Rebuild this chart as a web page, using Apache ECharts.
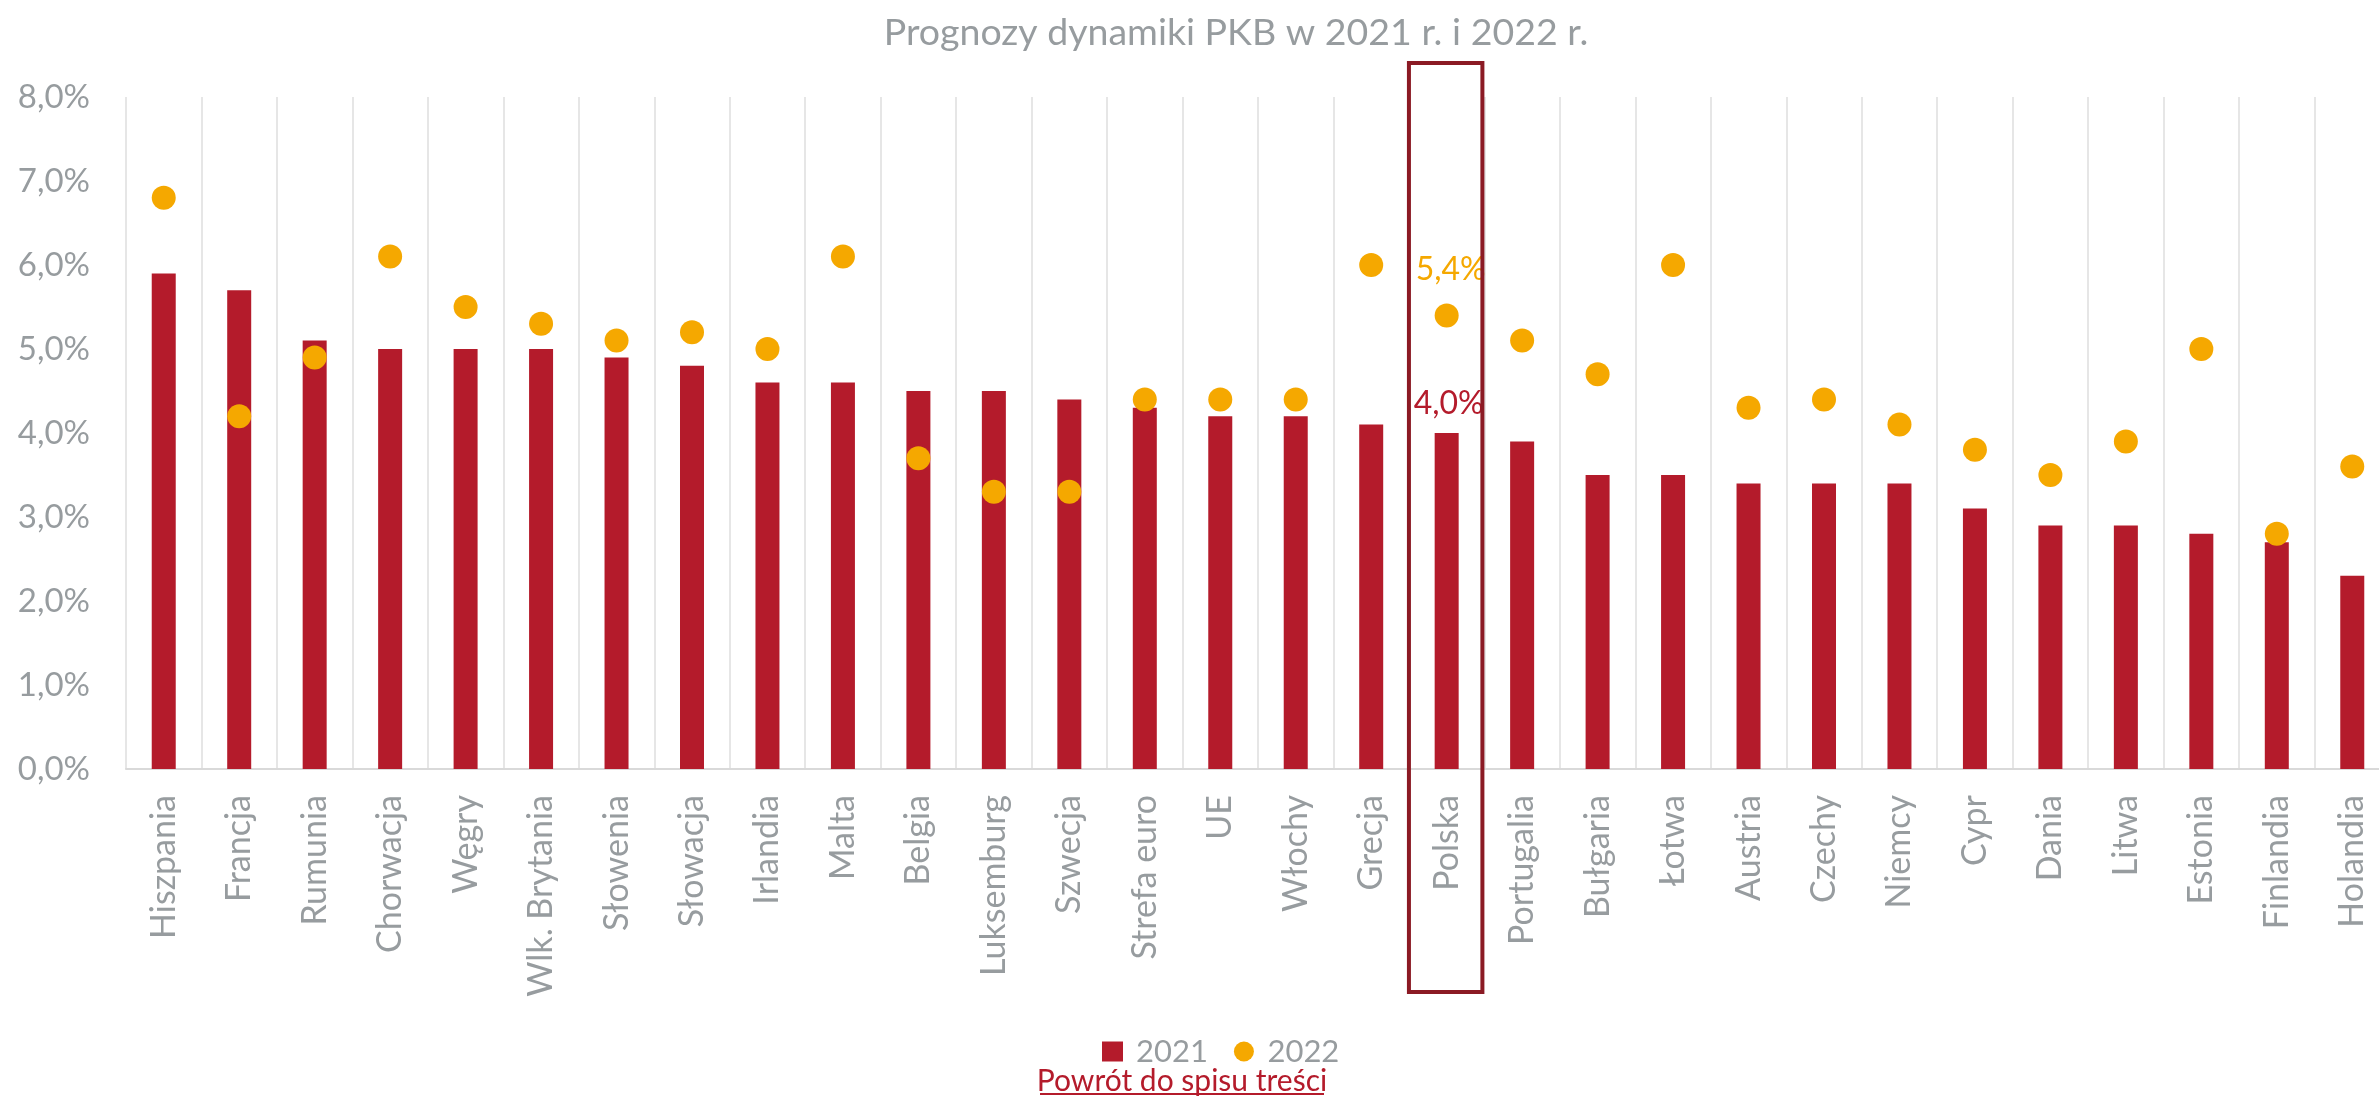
<!DOCTYPE html>
<html>
<head>
<meta charset="utf-8">
<script src="https://cdn.jsdelivr.net/npm/echarts@6/dist/echarts.min.js"></script>
<style>
html,body{margin:0;padding:0;background:#fff;}
#chart{width:2379px;height:1096px;}
</style>
</head>
<body>
<div id="chart"></div>
<script>
const categories = ['Hiszpania','Francja','Rumunia','Chorwacja','Węgry','Wlk. Brytania','Słowenia','Słowacja','Irlandia','Malta','Belgia','Luksemburg','Szwecja','Strefa euro','UE','Włochy','Grecja','Polska','Portugalia','Bułgaria','Łotwa','Austria','Czechy','Niemcy','Cypr','Dania','Litwa','Estonia','Finlandia','Holandia'];
const values2021 = [5.9,5.7,5.1,5.0,5.0,5.0,4.9,4.8,4.6,4.6,4.5,4.5,4.4,4.3,4.2,4.2,4.1,4.0,3.9,3.5,3.5,3.4,3.4,3.4,3.1,2.9,2.9,2.8,2.7,2.3];
const values2022 = [6.8,4.2,4.9,6.1,5.5,5.3,5.1,5.2,5.0,6.1,3.7,3.3,3.3,4.4,4.4,4.4,6.0,5.4,5.1,4.7,6.0,4.3,4.4,4.1,3.8,3.5,3.9,5.0,2.8,3.6];
const yTicks = [0,1,2,3,4,5,6,7,8];
const seriesNames = ['2021','2022'];
const highlighted = 'Polska';
const titleText = 'Prognozy dynamiki PKB w 2021 r. i 2022 r.';
const linkText = 'Powrót do spisu treści';

const FONT = 'Lato, "Open Sans", sans-serif';
const GREY = '#979C9F';
const RED = '#B41B2B';
const ORANGE = '#F5A800';
const fmt = v => v.toFixed(1).replace('.', ',') + '%';

const chart = echarts.init(document.getElementById('chart'), null, {renderer:'canvas'});
const hi = categories.indexOf(highlighted);

const barData = values2021.map((v,i) => i === hi ? {value:v, label:{show:true, position:'top', distance:13, offset:[2,0], color:RED, fontSize:32, fontFamily:FONT, formatter: p => fmt(p.value)}} : v);
const dotData = values2022.map((v,i) => i === hi ? {value:v, label:{show:true, position:'top', distance:18, offset:[4,0], color:ORANGE, fontSize:32, fontFamily:FONT, formatter: p => fmt(p.value)}} : v);

const option = {
  animation:false,
  backgroundColor:'#fff',
  title:{text:titleText, left:1231, textAlign:'center', top:9, textStyle:{color:GREY, fontSize:37.5, fontWeight:'normal', fontFamily:FONT}},
  legend:{
    data:[{name:seriesNames[0], icon:'rect'},{name:seriesNames[1], icon:'circle'}],
    left:1097, top:1031, itemWidth:21, itemHeight:20, itemGap:26,
    textStyle:{color:GREY, fontSize:31, fontFamily:FONT, padding:[0,0,0,8]}
  },
  grid:{left:126, top:97, width:2264, height:672, outerBoundsMode:'none', containLabel:false},
  xAxis:{
    type:'category', data:categories,
    axisLine:{lineStyle:{color:'#D9D9D9', width:2}},
    axisTick:{show:false},
    splitLine:{show:true, lineStyle:{color:'#DEDEDE', width:1.5}},
    axisLabel:{rotate:90, color:GREY, fontSize:34, fontFamily:FONT, margin:26, interval:0}
  },
  yAxis:{
    type:'value', min:yTicks[0], max:yTicks[yTicks.length-1], interval:1,
    axisLine:{show:false}, axisTick:{show:false}, splitLine:{show:false},
    axisLabel:{color:GREY, fontSize:33, fontFamily:FONT, margin:36, formatter: v => fmt(v)}
  },
  series:[
    {name:seriesNames[0], type:'bar', data:barData, barWidth:24, itemStyle:{color:RED}},
    {name:seriesNames[1], type:'scatter', data:dotData, symbolSize:24, itemStyle:{color:ORANGE, opacity:1}, z:3}
  ]
};
chart.setOption(option);

const cx = chart.convertToPixel({xAxisIndex:0}, highlighted);
const step = 2264 / categories.length;
chart.setOption({
  graphic:[
    {type:'rect', shape:{x:cx - step/2, y:63, width:step - 2, height:929}, style:{fill:'none', stroke:'#8B1A24', lineWidth:4}, z:100},
    {type:'text', x:1182, y:1081, style:{text:linkText, fill:RED, fontSize:30, fontFamily:FONT, align:'center', verticalAlign:'middle', textAlign:'center', textVerticalAlign:'middle'}, z:100},
    {type:'line', shape:{x1:1040, y1:1094, x2:1324, y2:1094}, style:{stroke:RED, lineWidth:2}, z:100}
  ]
});
</script>
</body>
</html>
